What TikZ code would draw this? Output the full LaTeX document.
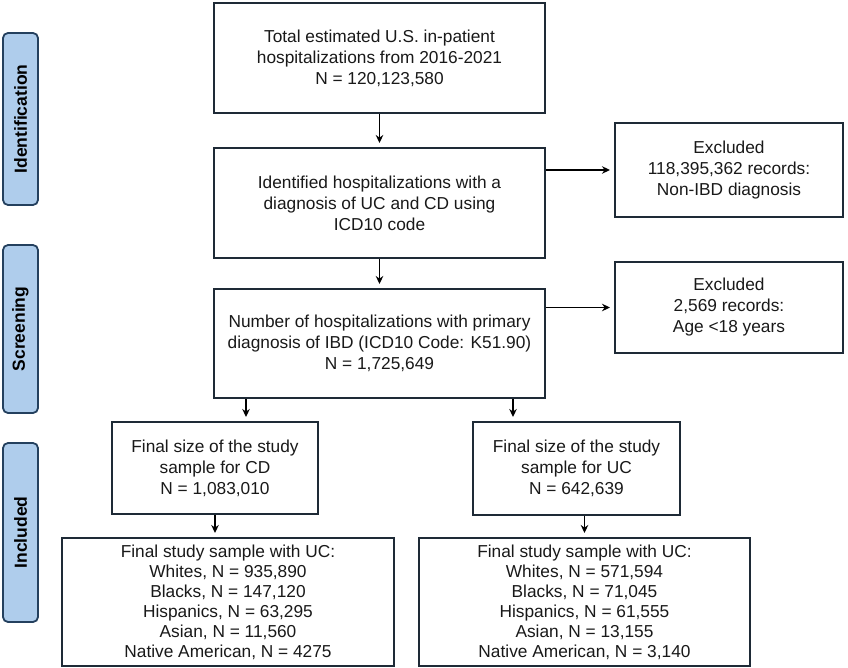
\documentclass[tikz,border=0pt]{standalone}
\usepackage{fontspec}
\setmainfont{Liberation Sans}
\usetikzlibrary{arrows.meta}
\definecolor{boxline}{HTML}{1E2A36}
\definecolor{barfill}{HTML}{AFCDEC}
\definecolor{barline}{HTML}{24405E}
\tikzset{
  flowbox/.style={draw=boxline, line width=2pt, fill=white, align=center,
    inner sep=0pt, text=black!90, font=\fontsize{17.3}{21}\selectfont},
  sidebar/.style={draw=barline, line width=1.8pt, fill=barfill, rounded corners=5pt,
    inner sep=0pt, rotate=90, font=\bfseries\fontsize{17.5}{20}\selectfont},
  arr/.style={line width=1.7pt, draw=black, -{Stealth[length=8pt,width=7.5pt]}, shorten >=4pt}
}
\begin{document}
\begin{tikzpicture}[x=1pt,y=-1pt]
\useasboundingbox (0,0) rectangle (848,668);
% side bars
\node[sidebar, minimum width=172pt, minimum height=35pt] (sid) at (20.5,119) {Identification};
\node[sidebar, minimum width=168pt, minimum height=35pt] (sscr) at (20.5,329) {Screening};
\node[sidebar, minimum width=179pt, minimum height=35pt] (sinc) at (20.5,532.5) {Included};
% main boxes
\node[flowbox, minimum width=331pt, minimum height=110pt] (b1) at (379.5,58)
  {Total estimated U.S. in-patient\\hospitalizations from 2016-2021\\N = 120,123,580};
\node[flowbox, minimum width=331pt, minimum height=110pt] (b2) at (379.5,203)
  {Identified hospitalizations with a\\diagnosis of UC and CD using\\ICD10 code};
\node[flowbox, minimum width=331pt, minimum height=109pt] (b3) at (379.5,343.5)
  {Number of hospitalizations with primary\\diagnosis of IBD (ICD10 Code: K51.90)\\N = 1,725,649};
\node[flowbox, minimum width=228pt, minimum height=94pt] (e1) at (729,170)
  {Excluded\\118,395,362 records:\\Non-IBD diagnosis};
\node[flowbox, minimum width=228pt, minimum height=91pt] (e2) at (729,307.5)
  {Excluded\\2,569 records:\\Age <18 years};
\node[flowbox, minimum width=206pt, minimum height=92pt] (cd) at (215,468)
  {Final size of the study\\sample for CD\\N = 1,083,010};
\node[flowbox, minimum width=207pt, minimum height=93pt] (uc) at (576.5,468.5)
  {Final size of the study\\sample for UC\\N = 642,639};
\node[flowbox, minimum width=332pt, minimum height=128pt, font=\fontsize{17.3}{20}\selectfont] (f1) at (228,602)
  {Final study sample with UC:\\Whites, N = 935,890\\Blacks, N = 147,120\\Hispanics, N = 63,295\\Asian, N = 11,560\\Native American, N = 4275};
\node[flowbox, minimum width=331pt, minimum height=128pt, font=\fontsize{17.3}{20}\selectfont] (f2) at (584.5,602)
  {Final study sample with UC:\\Whites, N = 571,594\\Blacks, N = 71,045\\Hispanics, N = 61,555\\Asian, N = 13,155\\Native American, N = 3,140};
% connectors
\draw[arr] (b1.south) -- (b2.north);
\draw[arr] (b2.south) -- (b3.north);
\draw[arr] (b2.east |- e1.west) -- (e1.west);
\draw[arr] (b3.east |- e2.west) -- (e2.west);
\coordinate (b3l) at ([xshift=33pt]b3.south west);
\coordinate (b3r) at ([xshift=-33pt]b3.south east);
\draw[arr] (b3l) -- (b3l |- cd.north);
\draw[arr] (b3r) -- (b3r |- uc.north);
\draw[arr] (cd.south) -- (cd.south |- f1.north);
\draw[arr] (f2.north |- uc.south) -- (f2.north);
\end{tikzpicture}
\end{document}
